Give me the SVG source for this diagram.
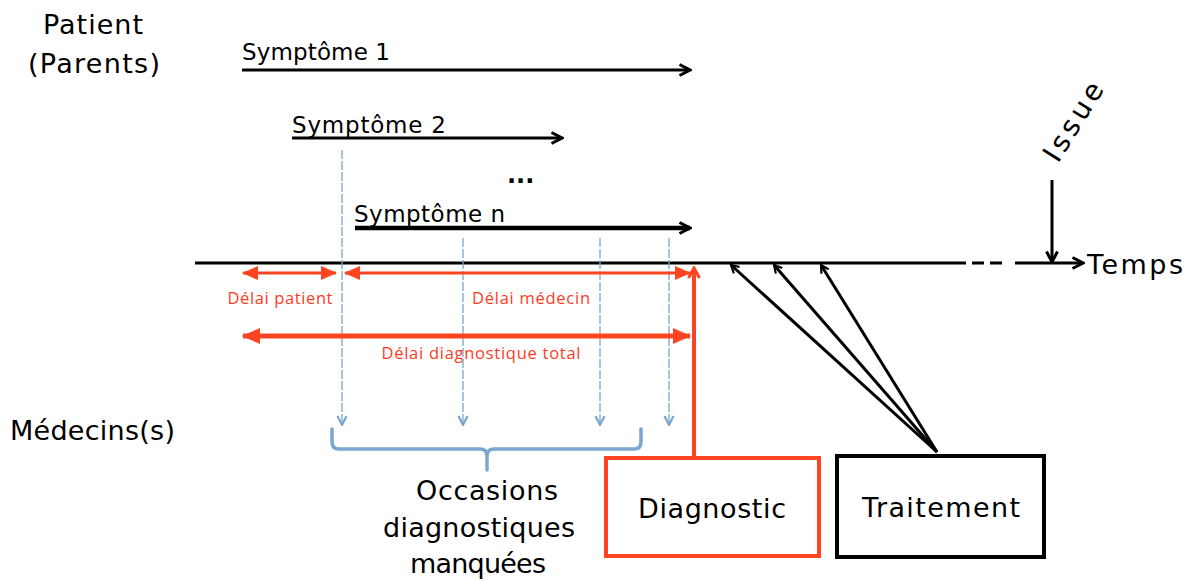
<svg xmlns="http://www.w3.org/2000/svg" width="1193" height="580" viewBox="0 0 1193 580">
  <style>
    .t { font-family: "DejaVu Sans", "Liberation Sans", sans-serif; fill: #000; }
    .big { font-size: 27px; }
    .sym { font-size: 23px; }
    .red { font-family: "Open Sans", "Liberation Sans", sans-serif; font-size: 16.5px; fill: #FF3B1F; }
    .blk { stroke: #000; fill: none; stroke-linecap: butt; }
    .blue { stroke: #7AA6CF; stroke-width: 1.3; fill: none; stroke-dasharray: 9 2; }
    .rd { stroke: #FF4422; fill: none; }
  </style>
  <defs>
    <marker id="chev" markerUnits="userSpaceOnUse" viewBox="0 0 14 14" refX="12.5" refY="7" markerWidth="14" markerHeight="14" orient="auto">
      <path d="M2,1.5 L12.5,7 L2,12.5" fill="none" stroke="#000" stroke-width="3"/>
    </marker>
    <marker id="chevS" markerUnits="userSpaceOnUse" viewBox="0 0 14 14" refX="12" refY="7" markerWidth="12" markerHeight="12" orient="auto">
      <path d="M3,2 L12,7 L3,12" fill="none" stroke="#000" stroke-width="2.5"/>
    </marker>
    <marker id="chevB" markerUnits="userSpaceOnUse" viewBox="0 0 12 12" refX="11" refY="6" markerWidth="12" markerHeight="12" orient="auto">
      <path d="M2,1.5 L11,6 L2,10.5" fill="none" stroke="#7AA6CF" stroke-width="2.2"/>
    </marker>
    <marker id="chevR" markerUnits="userSpaceOnUse" viewBox="0 0 14 14" refX="12" refY="7" markerWidth="14" markerHeight="14" orient="auto">
      <path d="M2,1.5 L12,7 L2,12.5" fill="none" stroke="#FF4422" stroke-width="3"/>
    </marker>
    <marker id="triR" markerUnits="userSpaceOnUse" viewBox="0 0 16 14" refX="15" refY="7" markerWidth="16" markerHeight="14" orient="auto-start-reverse">
      <path d="M0,0 L16,7 L0,14 Z" fill="#FF4422"/>
    </marker>
    <marker id="triR2" markerUnits="userSpaceOnUse" viewBox="0 0 18 16" refX="17" refY="8" markerWidth="18" markerHeight="16" orient="auto-start-reverse">
      <path d="M0,0 L18,8 L0,16 Z" fill="#FF4422"/>
    </marker>
  </defs>

  <!-- Row labels -->
  <g id="patient">
    <text class="t big" x="43" y="34" textLength="100">Patient</text>
    <text class="t big" x="28" y="73" textLength="132">(Parents)</text>
  </g>
  <g id="medecins">
    <text class="t big" x="10" y="440" textLength="165">Médecins(s)</text>
  </g>

  <!-- Symptoms -->
  <g id="symptome1">
    <text class="t sym" x="242" y="60" textLength="148">Symptôme 1</text>
  </g>
  <g id="symptome2">
    <text class="t sym" x="292" y="133" textLength="154">Symptôme 2</text>
  </g>
  <g id="ellipsis">
    <text class="t" x="507" y="183" font-size="24" font-weight="bold">...</text>
  </g>
  <g id="symptomen">
    <text class="t sym" x="354" y="222" textLength="151">Symptôme n</text>
  </g>

  <!-- Time axis -->
  <g id="temps">
    <text class="t big" x="1087" y="274" textLength="96">Temps</text>
  </g>
  <g id="issue">
    <text class="t" font-size="28" transform="translate(1058,164) rotate(-58)" textLength="88">Issue</text>
  </g>

  <!-- Red delay labels -->
  <g id="delai-patient"><text class="red" x="280" y="304" text-anchor="middle" textLength="105">Délai patient</text></g>
  <g id="delai-medecin"><text class="red" x="531" y="304" text-anchor="middle" textLength="118">Délai médecin</text></g>
  <g id="delai-total"><text class="red" x="481" y="359" text-anchor="middle" textLength="199">Délai diagnostique total</text></g>

  <!-- Boxes -->
  <g id="diagnostic">
    <rect x="606" y="458" width="213" height="98" fill="#fff" stroke="#FF4422" stroke-width="4"/>
    <text class="t big" x="712" y="518" text-anchor="middle" textLength="148">Diagnostic</text>
  </g>
  <g id="traitement">
    <rect x="837" y="456" width="207" height="101" fill="#fff" stroke="#000" stroke-width="4"/>
    <text class="t big" x="941" y="517" text-anchor="middle" textLength="158">Traitement</text>
  </g>

  <g id="occasions">
    <text class="t big" x="487" y="500" text-anchor="middle" textLength="142">Occasions</text>
    <text class="t big" x="479" y="537" text-anchor="middle" textLength="192">diagnostiques</text>
    <text class="t big" x="478" y="573" text-anchor="middle" textLength="136">manquées</text>
  </g>

  <g id="connectors">
    <!-- symptom arrows -->
    <line class="blk" x1="242" y1="70" x2="690" y2="70" stroke-width="3" marker-end="url(#chev)"/>
    <line class="blk" x1="292" y1="138" x2="562" y2="138" stroke-width="3" marker-end="url(#chev)"/>
    <line class="blk" x1="355" y1="228" x2="690" y2="228" stroke-width="4.5" marker-end="url(#chev)"/>

    <!-- time axis -->
    <line class="blk" x1="195" y1="263" x2="966" y2="263" stroke-width="3"/>
    <line class="blk" x1="972" y1="263" x2="1008" y2="263" stroke-width="3" stroke-dasharray="12 6"/>
    <line class="blk" x1="1015" y1="263" x2="1083" y2="263" stroke-width="3" marker-end="url(#chev)"/>

    <!-- issue arrow -->
    <line class="blk" x1="1052" y1="180" x2="1052" y2="262" stroke-width="3" marker-end="url(#chev)"/>

    <!-- blue dashed lines -->
    <line class="blue" x1="342" y1="150" x2="342" y2="425" marker-end="url(#chevB)"/>
    <line class="blue" x1="463" y1="238" x2="463" y2="425" marker-end="url(#chevB)"/>
    <line class="blue" x1="600" y1="238" x2="600" y2="425" marker-end="url(#chevB)"/>
    <line class="blue" x1="669" y1="238" x2="669" y2="425" marker-end="url(#chevB)"/>

    <!-- brace -->
    <path d="M332,429 L332,442 Q332,449 339,449 L480,449 Q487,449 487,456 L487,470 M487,456 Q487,449 494,449 L634,449 Q641,449 641,442 L641,429" fill="none" stroke="#7AA6CF" stroke-width="3.5" stroke-linecap="round"/>

    <!-- red delays -->
    <line class="rd" x1="243" y1="273" x2="336" y2="273" stroke-width="3" marker-start="url(#triR)" marker-end="url(#triR)"/>
    <line class="rd" x1="345" y1="273" x2="690" y2="273" stroke-width="3" marker-start="url(#triR)" marker-end="url(#triR)"/>
    <line class="rd" x1="243" y1="336" x2="690" y2="336" stroke-width="5" marker-start="url(#triR2)" marker-end="url(#triR2)"/>

    <!-- diagnostic to axis -->
    <line class="rd" x1="694" y1="457" x2="694" y2="268" stroke-width="4" marker-end="url(#chevR)"/>

    <!-- traitement to axis -->
    <line class="blk" x1="937" y1="452" x2="731" y2="265" stroke-width="3" marker-end="url(#chevS)"/>
    <line class="blk" x1="937" y1="452" x2="774" y2="265" stroke-width="3" marker-end="url(#chevS)"/>
    <line class="blk" x1="937" y1="452" x2="821" y2="265" stroke-width="3" marker-end="url(#chevS)"/>
  </g>
</svg>
